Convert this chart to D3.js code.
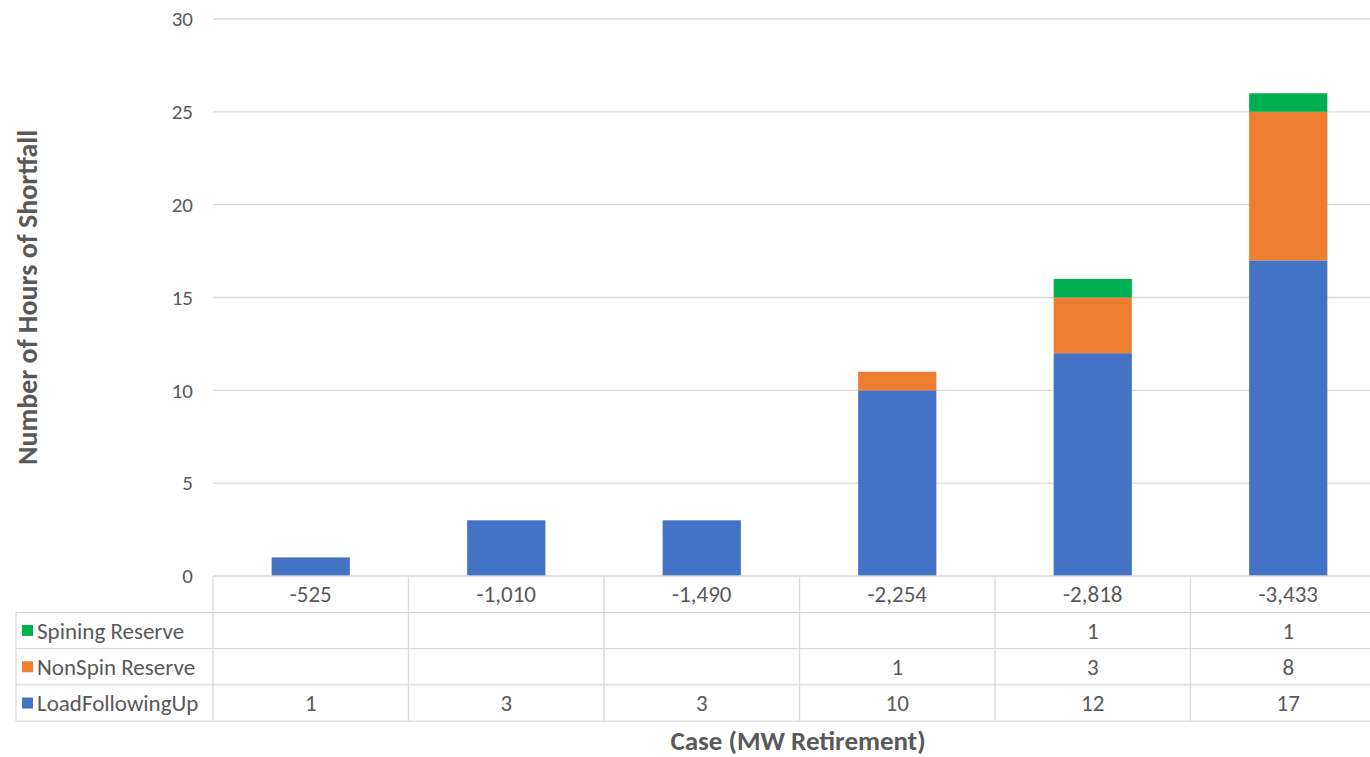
<!DOCTYPE html>
<html>
<head>
<meta charset="utf-8">
<script src="https://cdn.jsdelivr.net/npm/d3@7"></script>
<style>
  html, body { margin: 0; padding: 0; background: #fff; }
  svg { display: block; font-family: Calibri, Carlito, "Open Sans", "Noto Sans", sans-serif; }
</style>
</head>
<body>
<svg id="chart" width="1370" height="757"></svg>
<script>
// Retirement cases (MW) and hours of shortfall per reserve type
const cases = ["-525", "-1,010", "-1,490", "-2,254", "-2,818", "-3,433"];
const loadFollowingUp = [1, 3, 3, 10, 12, 17];
const nonSpinReserve = [null, null, null, 1, 3, 8];
const spiningReserve = [null, null, null, null, 1, 1];
const yTicks = [0, 5, 10, 15, 20, 25, 30];

const seriesList = [
  { name: "LoadFollowingUp", values: loadFollowingUp, color: "#4472C4" },
  { name: "NonSpin Reserve", values: nonSpinReserve, color: "#ED7D31" },
  { name: "Spining Reserve", values: spiningReserve, color: "#00B050" }
];

const svg = d3.select("#chart");
const plotLeft = 213, plotRight = 1386, plotTop = 19, plotBottom = 576;
const textColor = "#595959", lineColor = "#d9d9d9";
const tableFont = 23, tickFont = 21, titleFont = 27;

const x = d3.scaleBand().domain(cases).range([plotLeft, plotRight]).padding(0);
const y = d3.scaleLinear().domain([0, 30]).range([plotBottom, plotTop]);
const barW = x.bandwidth() * 0.4;

// gridlines
svg.append("g").selectAll("line").data(yTicks.filter(d => d > 0)).join("line")
  .attr("x1", plotLeft).attr("x2", plotRight)
  .attr("y1", d => y(d)).attr("y2", d => y(d))
  .attr("stroke", lineColor).attr("stroke-width", 1.3);

// y axis labels
const yAxis = d3.axisLeft(y).tickValues(yTicks).tickSize(0).tickPadding(0);
const ya = svg.append("g").attr("transform", `translate(${plotLeft - 20},0)`).call(yAxis);
ya.select(".domain").remove();
ya.selectAll("text").attr("font-size", tickFont).attr("fill", textColor)
  .attr("font-family", "Calibri, Carlito, 'Open Sans', sans-serif");

// stacked bars
const table = cases.map((c, i) => {
  const row = { c };
  seriesList.forEach(s => row[s.name] = s.values[i] || 0);
  return row;
});
const stack = d3.stack().keys(seriesList.map(s => s.name))(table);
stack.forEach((layer, li) => {
  svg.append("g").selectAll("rect").data(layer.filter(d => d[1] > d[0])).join("rect")
    .attr("x", d => x(d.data.c) + (x.bandwidth() - barW) / 2)
    .attr("width", barW)
    .attr("y", d => y(d[1]))
    .attr("height", d => y(d[0]) - y(d[1]))
    .attr("fill", seriesList[li].color);
});

// data table below the axis
const rowH = 36.3;
const rowsOrder = [seriesList[2], seriesList[1], seriesList[0]];
const tableLeft = 16;
const tableBottom = plotBottom + rowH * 4;
const g = svg.append("g");

// horizontal lines
g.append("line").attr("x1", plotLeft).attr("x2", plotRight).attr("y1", plotBottom).attr("y2", plotBottom)
  .attr("stroke", lineColor).attr("stroke-width", 1.3);
for (let r = 1; r <= 4; r++) {
  g.append("line").attr("x1", tableLeft).attr("x2", plotRight)
    .attr("y1", plotBottom + rowH * r).attr("y2", plotBottom + rowH * r)
    .attr("stroke", lineColor).attr("stroke-width", 1.3);
}
// vertical lines
g.append("line").attr("x1", tableLeft).attr("x2", tableLeft)
  .attr("y1", plotBottom + rowH).attr("y2", tableBottom).attr("stroke", lineColor).attr("stroke-width", 1.3);
cases.forEach(c => {
  g.append("line").attr("x1", x(c)).attr("x2", x(c))
    .attr("y1", plotBottom).attr("y2", tableBottom).attr("stroke", lineColor).attr("stroke-width", 1.3);
});

// category labels
g.selectAll("text.cat").data(cases).join("text").attr("class", "cat")
  .attr("x", d => x(d) + x.bandwidth() / 2).attr("y", plotBottom + rowH / 2)
  .attr("dy", "0.35em").attr("text-anchor", "middle")
  .attr("font-size", tableFont).attr("fill", textColor).text(d => d);

// series rows
rowsOrder.forEach((s, r) => {
  const cy = plotBottom + rowH * (r + 1) + rowH / 2;
  g.append("rect").attr("x", 22).attr("y", cy - 5.5).attr("width", 11).attr("height", 11).attr("fill", s.color);
  g.append("text").attr("x", 37).attr("y", cy).attr("dy", "0.35em")
    .attr("font-size", tableFont).attr("fill", textColor).text(s.name);
  g.selectAll(null).data(cases.map((c, i) => ({ c, v: s.values[i] })).filter(d => d.v != null))
    .join("text")
    .attr("x", d => x(d.c) + x.bandwidth() / 2).attr("y", cy).attr("dy", "0.35em")
    .attr("text-anchor", "middle").attr("font-size", tableFont).attr("fill", textColor)
    .text(d => d.v);
});

// axis titles
svg.append("text")
  .attr("transform", `translate(27,${(plotTop + plotBottom) / 2}) rotate(-90)`)
  .attr("dy", "0.35em")
  .attr("text-anchor", "middle").attr("font-size", 28).attr("font-weight", "bold")
  .attr("fill", textColor).text("Number of Hours of Shortfall");
svg.append("text")
  .attr("x", 798).attr("y", 741).attr("dy", "0.35em").attr("text-anchor", "middle")
  .attr("font-size", titleFont).attr("font-weight", "bold")
  .attr("fill", textColor).text("Case (MW Retirement)");
</script>
</body>
</html>
